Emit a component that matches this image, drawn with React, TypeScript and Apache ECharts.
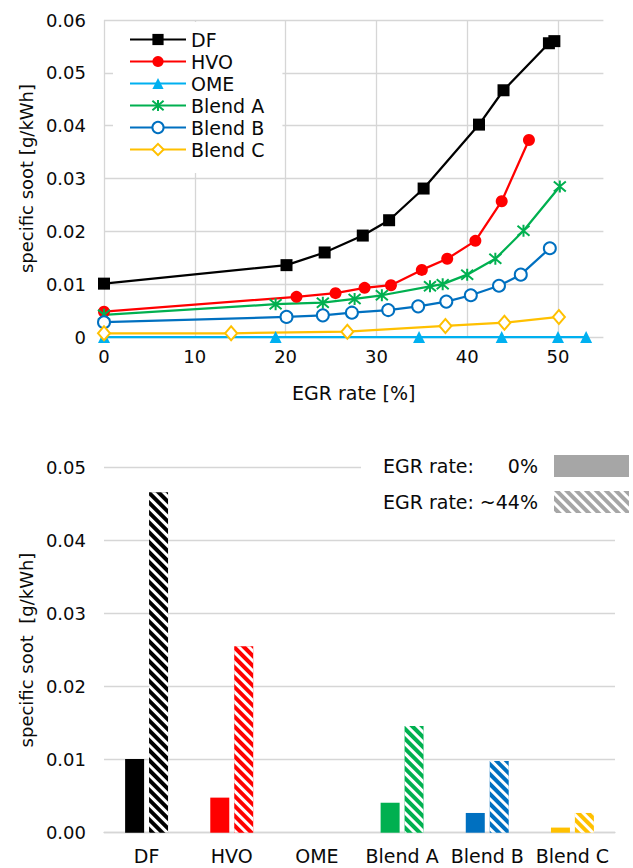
import React, { useEffect, useRef } from 'react';
import * as echarts from 'echarts';

// ---------- data: top chart (specific soot vs EGR rate) ----------
const seriesNames = ['DF', 'HVO', 'OME', 'Blend A', 'Blend B', 'Blend C'];

const dfX = [0, 20.1, 24.3, 28.5, 31.4, 35.2, 41.3, 44.0, 49.0, 49.6];
const dfY = [0.0101, 0.0136, 0.016, 0.0192, 0.0221, 0.0281, 0.0402, 0.0467, 0.0556, 0.056];

const hvoX = [0, 21.2, 25.5, 28.7, 31.6, 35.0, 37.8, 40.9, 43.8, 46.8];
const hvoY = [0.0048, 0.0076, 0.0083, 0.0093, 0.0098, 0.0127, 0.0148, 0.0182, 0.0257, 0.0373];

const omeX = [0, 18.9, 34.7, 43.8, 50.0, 53.1];
const omeY = [0, 0, 0, 0, 0, 0];

const blendAX = [0, 18.9, 24.1, 27.6, 30.6, 35.9, 37.3, 40.0, 43.1, 46.2, 50.2];
const blendAY = [0.0042, 0.0062, 0.0065, 0.0072, 0.0079, 0.0096, 0.01, 0.0118, 0.0148, 0.0201, 0.0285];

const blendBX = [0, 20.1, 24.1, 27.3, 31.3, 34.6, 37.7, 40.4, 43.5, 45.9, 49.1];
const blendBY = [0.0028, 0.0038, 0.0041, 0.0046, 0.0051, 0.0058, 0.0067, 0.0079, 0.0097, 0.0118, 0.0168];

const blendCX = [0, 14.0, 26.8, 37.6, 44.1, 50.1];
const blendCY = [0.0007, 0.0007, 0.001, 0.0021, 0.0027, 0.0038];

// ---------- data: bottom chart (bars) ----------
const fuels = ['DF', 'HVO', 'OME', 'Blend A', 'Blend B', 'Blend C'];
const barNames = ['EGR rate: 0%', 'EGR rate: ~44%'];
const soot0 = [0.0101, 0.0048, 0, 0.0041, 0.0027, 0.0007];
const soot44 = [0.0466, 0.0255, 0, 0.0146, 0.0098, 0.0027];

// ---------- styles ----------
const FONT = 'DejaVu Sans';
const TEXT = '#0a0a0a';
const GRID = '#d6d6d6';
const colors = ['#000000', '#ff0000', '#00b0f0', '#00b050', '#0070c0', '#ffc000'];
const STAR = 'path://M0,1L10,11M10,1L0,11M5,0L5,12';
const symbols = ['rect', 'circle', 'triangle', STAR, 'emptyCircle', 'emptyDiamond'];
const symbolSizes: any[] = [12, 12, 12, 12, 12, [12, 14]];

const lineXs = [dfX, hvoX, omeX, blendAX, blendBX, blendCX];
const lineYs = [dfY, hvoY, omeY, blendAY, blendBY, blendCY];

const hatch = {
  symbol: 'rect',
  symbolSize: 1,
  color: '#ffffff',
  dashArrayX: [1, 0],
  dashArrayY: [3, 4],
  rotation: Math.PI / 4,
};

export default function App() {
  const ref = useRef<HTMLDivElement>(null);

  useEffect(() => {
    if (!ref.current) return;
    const chart = echarts.init(ref.current, undefined, { renderer: 'svg' });

    const lineSeries = seriesNames.map((name, i) => {
      const hollow = i === 3 || i === 4 || i === 5;
      return {
        type: 'line',
        name,
        xAxisIndex: 0,
        yAxisIndex: 0,
        data: lineXs[i].map((x, j) => [x, lineYs[i][j]]),
        symbol: symbols[i],
        symbolSize: symbolSizes[i],
        clip: false,
        lineStyle: { color: colors[i], width: 2.25 },
        itemStyle: { color: colors[i], borderColor: colors[i], borderWidth: hollow ? 2 : 0 },
        z: 3,
      };
    });

    const barSeries = [soot0, soot44].map((vals, k) => ({
      type: 'bar',
      name: barNames[k],
      xAxisIndex: 1,
      yAxisIndex: 1,
      barWidth: 19,
      barGap: '26%',
      itemStyle: k === 1 ? { color: '#a6a6a6', decal: hatch } : { color: '#a6a6a6' },
      data: vals.map((v, j) => ({ value: v, itemStyle: { color: colors[j] } })),
    }));

    const axisLabel = { fontFamily: FONT, fontSize: 18, color: TEXT };

    chart.setOption({
      animation: false,
      backgroundColor: '#ffffff',
      textStyle: { fontFamily: FONT, color: TEXT },
      grid: [
        { left: 104, top: 20, right: 29.6, height: 317 },
        { left: 104, top: 467.3, right: 18, height: 365.4 },
      ],
      legend: [
        {
          data: seriesNames,
          orient: 'vertical',
          left: 113,
          top: 22,
          padding: [8, 18, 14, 16],
          backgroundColor: '#ffffff',
          itemWidth: 56,
          itemHeight: 14,
          itemGap: 3,
          selectedMode: false,
          textStyle: { fontFamily: FONT, fontSize: 19, color: TEXT },
        },
        {
          data: barNames,
          orient: 'vertical',
          align: 'right',
          left: 361,
          top: 449,
          padding: [6, 4, 12, 22],
          backgroundColor: '#ffffff',
          itemWidth: 75,
          itemHeight: 22,
          itemGap: 14,
          icon: 'rect',
          selectedMode: false,
          formatter: (name: string) => {
            const parts = name.split(': ');
            return '{a|' + parts[0] + ':}{b|' + parts[1] + '}';
          },
          textStyle: {
            fontFamily: FONT,
            fontSize: 19,
            color: TEXT,
            rich: {
              a: { fontFamily: FONT, fontSize: 19, color: TEXT, width: 95, align: 'left' },
              b: { fontFamily: FONT, fontSize: 19, color: TEXT, width: 60, align: 'right', padding: [0, 11, 0, 0] },
            },
          },
        },
      ],
      xAxis: [
        {
          gridIndex: 0,
          type: 'value',
          min: 0,
          max: 55,
          interval: 10,
          axisLine: { show: false },
          axisTick: { show: false },
          axisLabel: { ...axisLabel, margin: 10, showMaxLabel: false },
          splitLine: { show: true, showMaxLine: false, lineStyle: { color: GRID, width: 1.3 } },
          name: 'EGR rate [%]',
          nameLocation: 'middle',
          nameGap: 46,
          nameTextStyle: { fontFamily: FONT, fontSize: 19, color: TEXT },
        },
        {
          gridIndex: 1,
          type: 'category',
          data: fuels,
          axisLine: { show: true, lineStyle: { color: GRID, width: 1.3 } },
          axisTick: { show: false },
          axisLabel: { fontFamily: FONT, fontSize: 19, color: TEXT, margin: 14, interval: 0 },
          splitLine: { show: false },
        },
      ],
      yAxis: [
        {
          gridIndex: 0,
          type: 'value',
          min: 0,
          max: 0.06,
          interval: 0.01,
          axisLine: { show: false },
          axisTick: { show: false },
          axisLabel: {
            ...axisLabel,
            margin: 18,
            formatter: (v: number) => (v === 0 ? '0' : v.toFixed(2)),
          },
          splitLine: { show: true, lineStyle: { color: GRID, width: 1.3 } },
          name: 'specific soot [g/kWh]',
          nameLocation: 'middle',
          nameGap: 66,
          nameTextStyle: { fontFamily: FONT, fontSize: 18, color: TEXT },
        },
        {
          gridIndex: 1,
          type: 'value',
          min: 0,
          max: 0.05,
          interval: 0.01,
          axisLine: { show: false },
          axisTick: { show: false },
          axisLabel: { ...axisLabel, margin: 18, formatter: (v: number) => v.toFixed(2) },
          splitLine: { show: true, lineStyle: { color: GRID, width: 1.3 } },
          name: 'specific soot  [g/kWh]',
          nameLocation: 'middle',
          nameGap: 67,
          nameTextStyle: { fontFamily: FONT, fontSize: 18, color: TEXT },
        },
      ],
      series: [...lineSeries, ...barSeries],
    });

    return () => chart.dispose();
  }, []);

  return (
    <div
      ref={ref}
      style={{ position: 'fixed', left: 0, top: 0, width: 633, height: 868, background: '#ffffff' }}
    />
  );
}
